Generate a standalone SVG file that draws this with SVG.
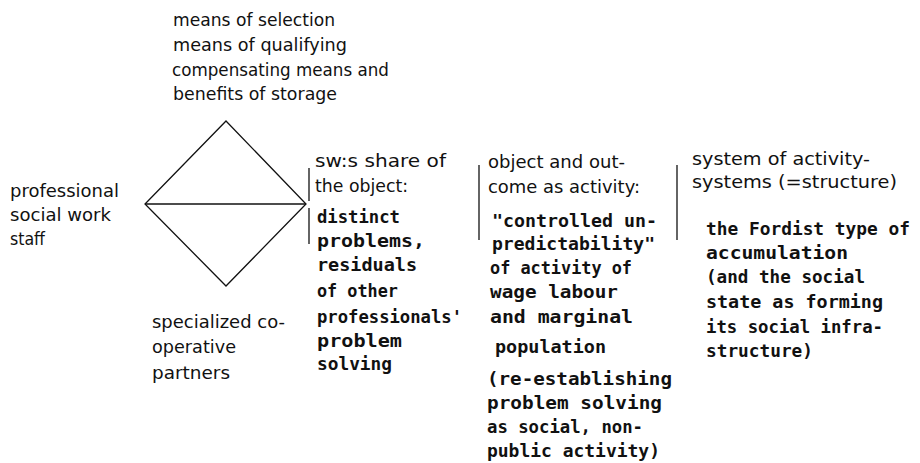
<svg xmlns="http://www.w3.org/2000/svg" width="920" height="463" viewBox="0 0 920 463">
<style>
.r{font-family:"DejaVu Sans","Liberation Sans",sans-serif;font-size:17px;fill:#111;}
.b{font-family:"DejaVu Sans Mono","Liberation Mono",monospace;font-size:17px;font-weight:bold;fill:#111;}
.ln{stroke:#111;stroke-width:1.3;fill:none;}
</style>
<rect width="920" height="463" fill="#fff"/>
<g id="connectors">
<polygon class="ln" points="226,121 306,204 226,286 145,204"/>
<line class="ln" x1="145" y1="204" x2="306" y2="204"/>
<line class="ln" x1="309" y1="168" x2="309" y2="201"/>
<line class="ln" x1="309" y1="208" x2="309" y2="244"/>
<line class="ln" x1="479" y1="165" x2="479" y2="240"/>
<line class="ln" x1="677" y1="165" x2="677" y2="240"/>
</g>
<g id="node-means">
<text class="r" x="173" y="26" textLength="162" lengthAdjust="spacingAndGlyphs">means of selection</text>
<text class="r" x="173" y="51" textLength="174" lengthAdjust="spacingAndGlyphs">means of qualifying</text>
<text class="r" x="172" y="76" textLength="217" lengthAdjust="spacingAndGlyphs">compensating means and</text>
<text class="r" x="173" y="100" textLength="164" lengthAdjust="spacingAndGlyphs">benefits of storage</text>
</g>
<g id="node-staff">
<text class="r" x="10" y="197" textLength="109" lengthAdjust="spacingAndGlyphs">professional</text>
<text class="r" x="10" y="221" textLength="101" lengthAdjust="spacingAndGlyphs">social work</text>
<text class="r" x="10" y="245" textLength="35" lengthAdjust="spacingAndGlyphs">staff</text>
</g>
<g id="node-partners">
<text class="r" x="152" y="328" textLength="133" lengthAdjust="spacingAndGlyphs">specialized co-</text>
<text class="r" x="152" y="353" textLength="84" lengthAdjust="spacingAndGlyphs">operative</text>
<text class="r" x="152" y="379" textLength="78" lengthAdjust="spacingAndGlyphs">partners</text>
</g>
<g id="node-share">
<text class="r" x="315" y="167" textLength="131" lengthAdjust="spacingAndGlyphs">sw:s share of</text>
<text class="r" x="315" y="192" textLength="93" lengthAdjust="spacingAndGlyphs">the object:</text>
<text class="b" x="317" y="223" textLength="83" lengthAdjust="spacingAndGlyphs">distinct</text>
<text class="b" x="317" y="247" textLength="108" lengthAdjust="spacingAndGlyphs">problems,</text>
<text class="b" x="317" y="271" textLength="100" lengthAdjust="spacingAndGlyphs">residuals</text>
<text class="b" x="317" y="297" textLength="81" lengthAdjust="spacingAndGlyphs">of other</text>
<text class="b" x="317" y="323" textLength="145" lengthAdjust="spacingAndGlyphs">professionals'</text>
<text class="b" x="317" y="347" textLength="85" lengthAdjust="spacingAndGlyphs">problem</text>
<text class="b" x="317" y="370" textLength="75" lengthAdjust="spacingAndGlyphs">solving</text>
</g>
<g id="node-activity">
<text class="r" x="488" y="168" textLength="137" lengthAdjust="spacingAndGlyphs">object and out-</text>
<text class="r" x="488" y="193" textLength="152" lengthAdjust="spacingAndGlyphs">come as activity:</text>
<text class="b" x="492" y="227" textLength="165" lengthAdjust="spacingAndGlyphs">"controlled un-</text>
<text class="b" x="492" y="250" textLength="163" lengthAdjust="spacingAndGlyphs">predictability"</text>
<text class="b" x="490" y="274" textLength="142" lengthAdjust="spacingAndGlyphs">of activity of</text>
<text class="b" x="490" y="298" textLength="128" lengthAdjust="spacingAndGlyphs">wage labour</text>
<text class="b" x="490" y="323" textLength="143" lengthAdjust="spacingAndGlyphs">and marginal</text>
<text class="b" x="495" y="353" textLength="111" lengthAdjust="spacingAndGlyphs">population</text>
<text class="b" x="487" y="385" textLength="185" lengthAdjust="spacingAndGlyphs">(re-establishing</text>
<text class="b" x="487" y="409" textLength="175" lengthAdjust="spacingAndGlyphs">problem solving</text>
<text class="b" x="487" y="433" textLength="156" lengthAdjust="spacingAndGlyphs">as social, non-</text>
<text class="b" x="487" y="457" textLength="173" lengthAdjust="spacingAndGlyphs">public activity)</text>
</g>
<g id="node-structure">
<text class="r" x="692" y="165" textLength="178" lengthAdjust="spacingAndGlyphs">system of activity-</text>
<text class="r" x="692" y="188" textLength="205" lengthAdjust="spacingAndGlyphs">systems (=structure)</text>
<text class="b" x="706" y="235" textLength="204" lengthAdjust="spacingAndGlyphs">the Fordist type of</text>
<text class="b" x="706" y="259" textLength="142" lengthAdjust="spacingAndGlyphs">accumulation</text>
<text class="b" x="706" y="283" textLength="159" lengthAdjust="spacingAndGlyphs">(and the social</text>
<text class="b" x="706" y="308" textLength="177" lengthAdjust="spacingAndGlyphs">state as forming</text>
<text class="b" x="706" y="333" textLength="177" lengthAdjust="spacingAndGlyphs">its social infra-</text>
<text class="b" x="706" y="357" textLength="107" lengthAdjust="spacingAndGlyphs">structure)</text>
</g>
</svg>
